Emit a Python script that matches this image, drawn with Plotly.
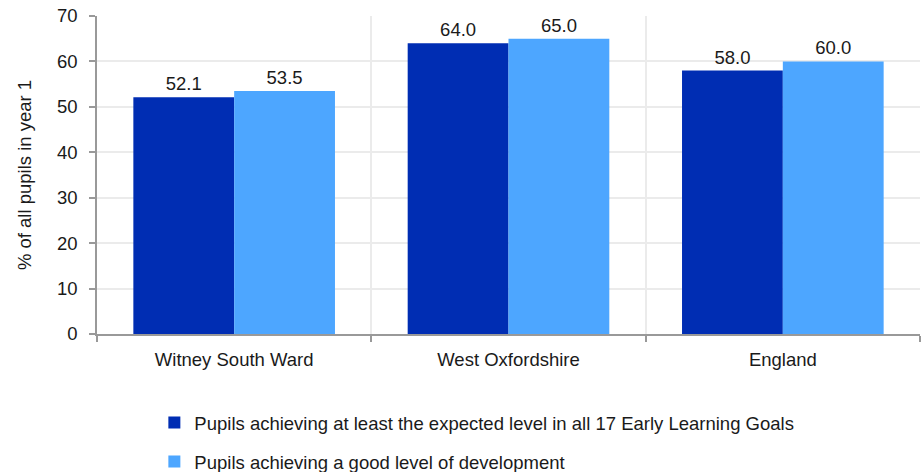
import plotly.graph_objects as go

categories = ["Witney South Ward", "West Oxfordshire", "England"]
series_names = [
    "Pupils achieving at least the expected level in all 17 Early Learning Goals",
    "Pupils achieving a good level of development",
]
elg_values = [52.1, 64.0, 58.0]
gld_values = [53.5, 65.0, 60.0]
colors = ["#002db3", "#4da6ff"]

FS = 18.5

fig = go.Figure()
for i, (name, vals) in enumerate(zip(series_names, [elg_values, gld_values])):
    fig.add_trace(go.Bar(
        x=categories, y=vals, name=name, marker_color=colors[i],
        marker_line_width=0,
        text=[f"{v:.1f}" for v in vals], textposition="outside",
        textfont=dict(size=FS, color="#1a1a1a"), cliponaxis=False,
        legendgroup=f"g{i}",
    ))

fig.update_layout(
    width=921, height=472,
    margin=dict(l=97, r=1, t=16, b=138, autoexpand=False),
    paper_bgcolor="white", plot_bgcolor="white",
    font=dict(family="Liberation Sans, Arial, sans-serif", size=FS, color="#1a1a1a"),
    barmode="group", bargap=0.265, bargroupgap=0,
    showlegend=True,
    legend=dict(x=0.0697, y=-0.220, xanchor="left", yanchor="top",
                orientation="v", tracegroupgap=12, font=dict(size=FS),
                itemwidth=30, bgcolor="rgba(0,0,0,0)"),
    xaxis=dict(
        type="category", tickson="boundaries", showgrid=True, gridcolor="#ebebeb",
        gridwidth=1.5, showline=True, linecolor="#999999", linewidth=1.5,
        ticks="outside", ticklen=6, tickcolor="#999999", tickwidth=1.5,
        tickfont=dict(size=FS), ticklabelstandoff=8, automargin=False,
    ),
    yaxis=dict(
        range=[0, 70], dtick=10, showgrid=True, gridcolor="#ebebeb", gridwidth=1.5,
        showline=True, linecolor="#999999", linewidth=1.5,
        ticks="outside", ticklen=6, tickcolor="#999999", tickwidth=1.5,
        tickfont=dict(size=FS), zeroline=False, ticklabelstandoff=8,
        automargin=False,
        title=dict(text="% of all pupils in year 1", font=dict(size=FS), standoff=20),
    ),
)

fig.write_html("out.html", config={"displayModeBar": False},
               post_script="document.body.style.margin='0';")
